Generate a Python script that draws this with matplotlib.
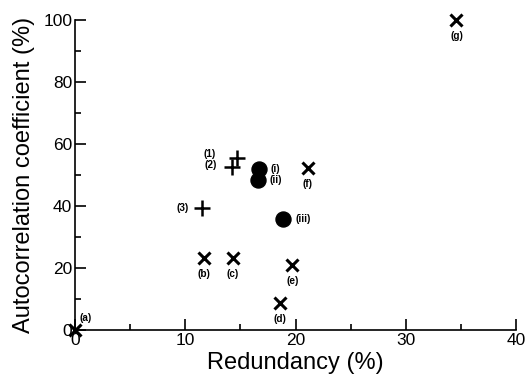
import matplotlib
matplotlib.use('Agg')
import matplotlib.pyplot as plt
from matplotlib.ticker import MultipleLocator

plt.rcParams['font.family'] = ['Liberation Sans', 'DejaVu Sans']

# Cross markers (a)-(g)
cross_lbl = ['(a)', '(b)', '(c)', '(d)', '(e)', '(f)', '(g)']
cross_x = [0.0, 11.7, 14.3, 18.6, 19.7, 21.1, 34.6]
cross_y = [0.0, 23.3, 23.3, 8.8, 21.0, 52.3, 100.0]

# Plus markers (1)-(3)
plus_lbl = ['(1)', '(2)', '(3)']
plus_x = [14.7, 14.2, 11.5]
plus_y = [55.5, 52.6, 39.5]

# Filled circles (i)-(iii)
circ_lbl = ['(i)', '(ii)', '(iii)']
circ_x = [16.7, 16.6, 18.9]
circ_y = [51.8, 48.4, 35.9]

fig = plt.figure(figsize=(5.26, 3.74), dpi=100)
ax = fig.add_axes([0.1426, 0.1176, 0.8384, 0.829])

ax.plot(cross_x, cross_y, 'x', color='k', ms=9, mew=2.2, ls='none', clip_on=False, zorder=3)
ax.plot(plus_x, plus_y, '+', color='k', ms=11, mew=1.8, ls='none', clip_on=False, zorder=3)
ax.plot(circ_x, circ_y, 'o', color='k', ms=10.8, ls='none', clip_on=False, zorder=3)

lbl_kw = dict(textcoords='offset points', fontsize=7.2, fontweight='bold')
for x, y, t in zip(cross_x, cross_y, cross_lbl):
    if t == '(a)':
        ax.annotate(t, (x, y), xytext=(3.5, 5), ha='left', va='bottom', **lbl_kw)
    else:
        ax.annotate(t, (x, y), xytext=(0, -8), ha='center', va='top', **lbl_kw)

# labels left of the plus markers; (1) and (2) stacked
plus_off = [(-15, 3), (-10.5, 1.5), (-9.5, 0)]
for x, y, t, off in zip(plus_x, plus_y, plus_lbl, plus_off):
    ax.annotate(t, (x, y), xytext=off, ha='right', va='center', **lbl_kw)
for x, y, t in zip(circ_x, circ_y, circ_lbl):
    ax.annotate(t, (x, y), xytext=(8.5, 0), ha='left', va='center', **lbl_kw)

ax.set_xlim(0, 40)
ax.set_ylim(0, 100)
ax.xaxis.set_major_locator(MultipleLocator(10))
ax.xaxis.set_minor_locator(MultipleLocator(5))
ax.yaxis.set_major_locator(MultipleLocator(20))
ax.yaxis.set_minor_locator(MultipleLocator(10))
ax.tick_params(which='both', direction='in', width=1.2, labelsize=12.5, pad=2)
ax.tick_params(which='major', length=8)
ax.tick_params(which='minor', length=4)
for s in ['top', 'right']:
    ax.spines[s].set_visible(False)
for s in ['left', 'bottom']:
    ax.spines[s].set_linewidth(1.2)

ax.set_xlabel('Redundancy (%)', fontsize=17)
ax.set_ylabel('Autocorrelation coefficient (%)', fontsize=17)
ax.xaxis.set_label_coords(0.5, -0.072)
ax.yaxis.set_label_coords(-0.09, 0.5)

fig.savefig('out.png', dpi=100)
